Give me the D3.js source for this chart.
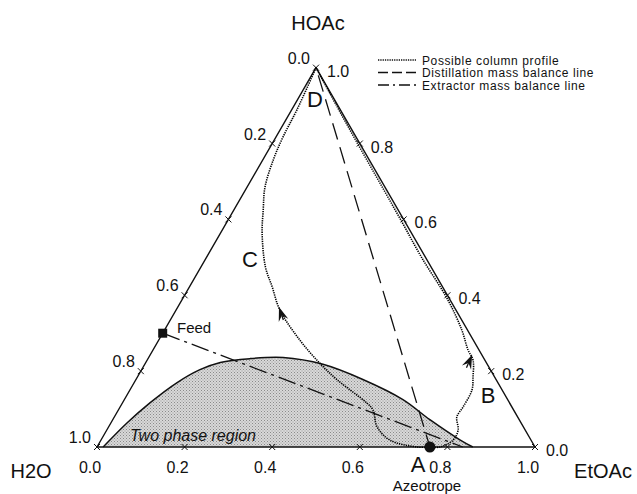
<!DOCTYPE html>
<html>
<head>
<meta charset="utf-8">
<script src="https://cdn.jsdelivr.net/npm/d3@7"></script>
<style>
  body { margin: 0; background: #fff; }
  svg { display: block; font-family: Arial, "Liberation Sans", Helvetica, sans-serif; }
</style>
</head>
<body>
<div id="chart"></div>
<script>
// Ternary data, every point given as (EtOAc, HOAc) mole fractions; water = 1 - e - h

// Two phase region (binodal curve)
const binodalEtOAc = [0.014, 0.037, 0.063, 0.098, 0.133, 0.170, 0.233, 0.307, 0.407, 0.518, 0.636, 0.724, 0.819, 0.858];
const binodalHOAc  = [0.000, 0.064, 0.117, 0.170, 0.204, 0.223, 0.233, 0.236, 0.218, 0.178, 0.125, 0.072, 0.019, 0.000];

// Possible column profile, branch through C (from D down to A)
const profileCEtOAc = [0.000, 0.012, 0.016, 0.024, 0.041, 0.067, 0.095, 0.147, 0.189, 0.237, 0.322, 0.398, 0.460, 0.558, 0.581, 0.613, 0.660, 0.731, 0.760];
const profileCHOAc  = [1.000, 0.889, 0.817, 0.757, 0.685, 0.625, 0.564, 0.475, 0.422, 0.361, 0.282, 0.221, 0.177, 0.116, 0.098, 0.053, 0.018, 0.000, 0.000];

// Possible column profile, branch through B (from A up to D)
const profileBEtOAc = [0.760, 0.783, 0.804, 0.802, 0.782, 0.783, 0.781, 0.766, 0.744, 0.719, 0.679, 0.607, 0.491, 0.393, 0.294, 0.195, 0.097, 0.000];
const profileBHOAc  = [0.000, 0.000, 0.018, 0.045, 0.079, 0.105, 0.150, 0.185, 0.229, 0.256, 0.308, 0.388, 0.500, 0.600, 0.700, 0.800, 0.900, 1.000];

// Arrow heads on the profile: tip and tail points
const arrowTipEtOAc  = [0.231, 0.735];
const arrowTipHOAc   = [0.369, 0.243];
const arrowTailEtOAc = [0.258, 0.739];
const arrowTailHOAc  = [0.335, 0.209];

// Special compositions
const feedPoint = { e: 0.0, h: 0.30 };
const azeotrope = { e: 0.76, h: 0.0 };
const distillate = { e: 0.0, h: 1.0 };
const extractEnd = { e: 0.835, h: 0.0 };

const tickValues = [0, 0.2, 0.4, 0.6, 0.8, 1.0];

const legendLabels = ["Possible column profile", "Distillation mass balance line", "Extractor mass balance line"];
const legendDashes = ["1.3,1", "10,4", "11,4,2,4"];

// Dimensions
const width = 637;
const height = 494;
const side = 438;
const tri = side * Math.sqrt(3) / 2;

const xScale = d3.scaleLinear().domain([0, 1]).range([97, 97 + side]);
const yScale = d3.scaleLinear().domain([0, 1]).range([447, 447 - tri]);
const px = (e, h) => xScale(e + h / 2);
const py = h => yScale(h);

const svg = d3.select("#chart")
  .append("svg")
    .attr("width", width)
    .attr("height", height)
    .attr("viewBox", `0 0 ${width} ${height}`);

// Stippled fill
const pattern = svg.append("defs")
  .append("pattern")
    .attr("id", "stipple")
    .attr("width", 3)
    .attr("height", 3)
    .attr("patternUnits", "userSpaceOnUse");
pattern.append("rect").attr("width", 3).attr("height", 3).attr("fill", "#d8d8d8");
pattern.append("rect").attr("x", 0).attr("y", 0).attr("width", 1).attr("height", 1).attr("fill", "#8a8a8a");
pattern.append("rect").attr("x", 1.5).attr("y", 1.5).attr("width", 1).attr("height", 1).attr("fill", "#9a9a9a");

const line = d3.line()
  .x(d => px(d.e, d.h))
  .y(d => py(d.h));

const zip = (es, hs) => es.map((e, i) => ({ e: e, h: hs[i] }));

// Two phase region
const binodal = zip(binodalEtOAc, binodalHOAc);
svg.append("path")
  .attr("d", line.curve(d3.curveCatmullRom)(binodal) + "Z")
  .attr("fill", "url(#stipple)")
  .attr("stroke", "none");
svg.append("path")
  .attr("d", line.curve(d3.curveCatmullRom)(binodal))
  .attr("fill", "none")
  .attr("stroke", "#111")
  .attr("stroke-width", 1.5);

svg.append("text")
  .attr("x", 130)
  .attr("y", 441)
  .attr("font-size", 16)
  .attr("font-style", "italic")
  .attr("fill", "#111")
  .text("Two phase region");

// Triangle
const corners = [{ e: 0, h: 0 }, { e: 1, h: 0 }, { e: 0, h: 1 }];
svg.append("path")
  .attr("d", line.curve(d3.curveLinear)(corners) + "Z")
  .attr("fill", "none")
  .attr("stroke", "#111")
  .attr("stroke-width", 1.4)
  .attr("stroke-linejoin", "round");

// Ticks on the three edges
const fmt = d3.format(".1f");
const bottomTicks = tickValues.map(t => ({ e: t, h: 0, t: t }));
const leftTicks = tickValues.map(t => ({ e: 0, h: 1 - t, t: t }));
const rightTicks = tickValues.map(t => ({ e: 1 - t, h: t, t: t }));

const cross = d => {
  const x = px(d.e, d.h), y = py(d.h);
  return `M${x - 3},${y - 3}L${x + 3},${y + 3}M${x - 3},${y + 3}L${x + 3},${y - 3}`;
};
const allTicks = bottomTicks.concat(
  leftTicks.filter(d => d.t < 1),
  rightTicks.filter(d => d.t > 0 && d.t < 1)
);
svg.selectAll(".tick")
  .data(allTicks)
  .join("path")
    .attr("class", "tick")
    .attr("d", cross)
    .attr("stroke", "#111")
    .attr("stroke-width", 1);

const tickLabel = (data, dx, dy, anchor) => svg.append("g")
  .selectAll("text")
  .data(data)
  .join("text")
    .attr("x", d => px(d.e, d.h) + dx)
    .attr("y", d => py(d.h) + dy)
    .attr("text-anchor", anchor)
    .attr("font-size", 16)
    .attr("fill", "#111")
    .text(d => fmt(d.t));

tickLabel(bottomTicks, -7, 26, "middle");
tickLabel(leftTicks, -6, -4, "end");
tickLabel(rightTicks, 11, 9, "start");

// Mass balance lines
svg.append("path")
  .attr("d", line.curve(d3.curveLinear)([distillate, azeotrope]))
  .attr("fill", "none")
  .attr("stroke", "#111")
  .attr("stroke-width", 1.3)
  .attr("stroke-dasharray", "17,8")
  .attr("stroke-dashoffset", -8);

svg.append("path")
  .attr("d", line.curve(d3.curveLinear)([feedPoint, extractEnd]))
  .attr("fill", "none")
  .attr("stroke", "#111")
  .attr("stroke-width", 1.3)
  .attr("stroke-dasharray", "18,5,3,5");

// Column profile
[zip(profileCEtOAc, profileCHOAc), zip(profileBEtOAc, profileBHOAc)].forEach(p => {
  svg.append("path")
    .attr("d", line.curve(d3.curveCatmullRom)(p))
    .attr("fill", "none")
    .attr("stroke", "#000")
    .attr("stroke-width", 1.6)
    .attr("stroke-dasharray", "1.3,1");
});

// Arrow heads
arrowTipEtOAc.forEach((e, i) => {
  const tx = px(e, arrowTipHOAc[i]), ty = py(arrowTipHOAc[i]);
  const bx = px(arrowTailEtOAc[i], arrowTailHOAc[i]), by = py(arrowTailHOAc[i]);
  const ang = Math.atan2(ty - by, tx - bx);
  const len = 14, half = 5, notch = 9;
  const ux = Math.cos(ang), uy = Math.sin(ang);
  const nx = -uy, ny = ux;
  const p1 = [tx - ux * len + nx * half, ty - uy * len + ny * half];
  const p2 = [tx - ux * notch, ty - uy * notch];
  const p3 = [tx - ux * len - nx * half, ty - uy * len - ny * half];
  svg.append("path")
    .attr("d", `M${tx},${ty}L${p1}L${p2}L${p3}Z`)
    .attr("fill", "#111");
  svg.append("path")
    .attr("d", `M${p2}L${bx},${by}`)
    .attr("stroke", "#111")
    .attr("stroke-width", 1.3);
});

// Feed and azeotrope markers
svg.append("rect")
  .attr("x", px(feedPoint.e, feedPoint.h) - 4.5)
  .attr("y", py(feedPoint.h) - 4.5)
  .attr("width", 9)
  .attr("height", 9)
  .attr("fill", "#111");
svg.append("circle")
  .attr("cx", px(azeotrope.e, azeotrope.h))
  .attr("cy", py(azeotrope.h))
  .attr("r", 5.5)
  .attr("fill", "#111");

// Annotations
const annotations = [
  { text: "Feed", x: 177, y: 333, size: 15, anchor: "start" },
  { text: "A", x: 418, y: 472, size: 22, anchor: "middle" },
  { text: "B", x: 488, y: 403, size: 22, anchor: "middle" },
  { text: "C", x: 250, y: 267, size: 22, anchor: "middle" },
  { text: "D", x: 315, y: 107, size: 22, anchor: "middle" },
  { text: "Azeotrope", x: 427, y: 491, size: 15, anchor: "middle" },
  { text: "HOAc", x: 318, y: 30, size: 20, anchor: "middle" },
  { text: "H2O", x: 31, y: 478, size: 20, anchor: "middle" },
  { text: "EtOAc", x: 603, y: 478, size: 20, anchor: "middle" }
];
svg.append("g")
  .selectAll("text")
  .data(annotations)
  .join("text")
    .attr("x", d => d.x)
    .attr("y", d => d.y)
    .attr("font-size", d => d.size)
    .attr("text-anchor", d => d.anchor)
    .attr("fill", "#111")
    .text(d => d.text);

// Legend
const legend = svg.append("g")
  .selectAll("g")
  .data(legendLabels)
  .join("g")
    .attr("transform", (d, i) => `translate(378, ${60 + i * 12.5})`);
legend.append("line")
  .attr("x1", 0)
  .attr("x2", 38)
  .attr("stroke", "#111")
  .attr("stroke-width", (d, i) => i === 0 ? 1.5 : 1.5)
  .attr("stroke-dasharray", (d, i) => legendDashes[i]);
legend.append("text")
  .attr("x", 44)
  .attr("y", 4.5)
  .attr("font-size", 12)
  .attr("letter-spacing", 0.6)
  .attr("fill", "#111")
  .text(d => d);
</script>
</body>
</html>
